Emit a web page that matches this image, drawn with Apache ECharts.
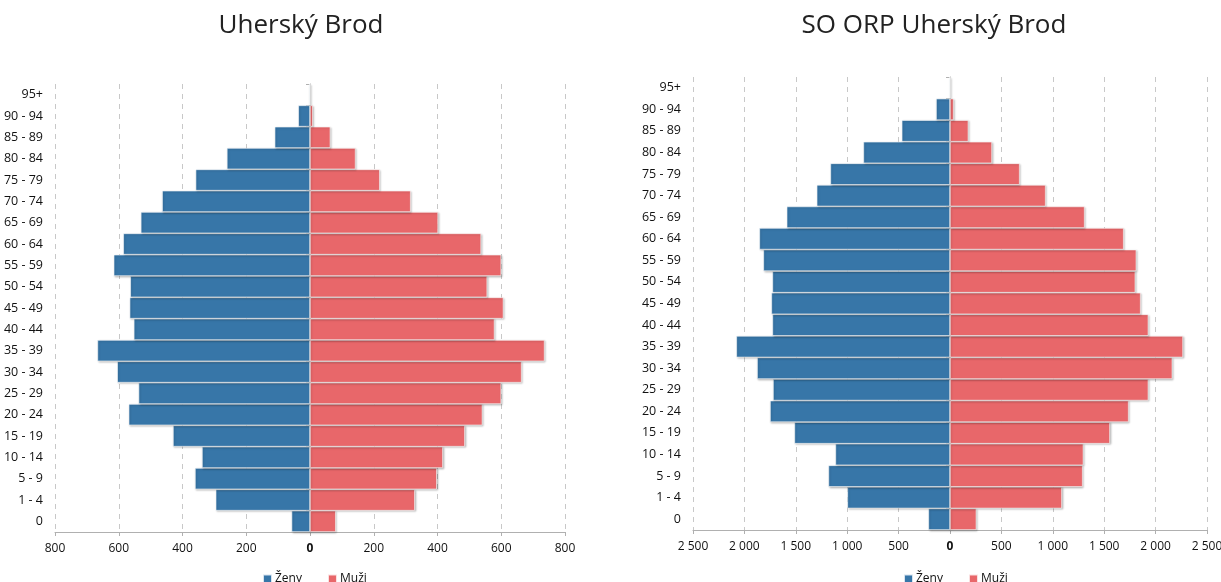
<!DOCTYPE html>
<html>
<head>
<meta charset="utf-8">
<script src="https://cdn.jsdelivr.net/npm/echarts@6/dist/echarts.min.js"></script>
<style>
  html, body { margin: 0; padding: 0; background: #fff; }
  #chart { width: 1221px; height: 582px; }
</style>
</head>
<body>
<div id="chart"></div>
<script>
// age groups, bottom to top
const ageGroups = ["0", "1 - 4", "5 - 9", "10 - 14", "15 - 19", "20 - 24", "25 - 29", "30 - 34",
  "35 - 39", "40 - 44", "45 - 49", "50 - 54", "55 - 59", "60 - 64", "65 - 69", "70 - 74",
  "75 - 79", "80 - 84", "85 - 89", "90 - 94", "95+"];

// Uherský Brod
const brodZeny = [58, 296, 361, 339, 430, 569, 538, 605, 667, 553, 566, 564, 616, 586, 531, 464, 359, 261, 111, 37, 3];
const brodMuzi = [81, 329, 398, 417, 486, 541, 600, 664, 736, 579, 607, 556, 600, 537, 402, 316, 219, 143, 64, 9, 1];

// SO ORP Uherský Brod
const orpZeny = [211, 999, 1183, 1115, 1514, 1751, 1722, 1877, 2079, 1728, 1738, 1728, 1816, 1855, 1589, 1297, 1164, 843, 470, 136, 8];
const orpMuzi = [257, 1089, 1291, 1298, 1556, 1738, 1930, 2163, 2267, 1930, 1855, 1803, 1813, 1690, 1310, 931, 678, 409, 179, 36, 5];

const titles = ["Uherský Brod", "SO ORP Uherský Brod"];
const blue = "#3776a8";
const red = "#e8676a";
const font = "Open Sans";

const chart = echarts.init(document.getElementById("chart"));

const neg = arr => arr.map(v => -v);
const fmtThousands = v => {
  const a = Math.abs(v);
  if (a === 0) return "{b|0}";
  return String(a).replace(/\B(?=(\d{3})+(?!\d))/g, " ");
};

const valueAxis = (gridIndex, max, interval) => ({
  type: "value",
  gridIndex: gridIndex,
  min: -max,
  max: max,
  interval: interval,
  axisLine: { show: true, lineStyle: { color: "#b0b0b0" } },
  axisTick: { show: true, length: 4, lineStyle: { color: "#b0b0b0" } },
  axisLabel: {
    formatter: fmtThousands,
    color: "#111",
    fontFamily: font,
    fontSize: 12,
    margin: 11,
    rich: { b: { fontWeight: "bold", fontFamily: font, fontSize: 12, color: "#111" } }
  },
  splitLine: { show: true, lineStyle: { color: "#c8c8c8", type: [5, 5], width: 1 } }
});

const categoryAxis = gridIndex => ({
  type: "category",
  gridIndex: gridIndex,
  data: ageGroups,
  axisLine: { show: true, lineStyle: { color: "#b0b0b0" } },
  axisTick: { show: true, length: 4, lineStyle: { color: "#b0b0b0" } },
  axisLabel: { color: "#111", fontFamily: font, fontSize: 12.5, margin: 12 }
});

const barSeries = (name, data, idx, color) => ({
  name: name,
  type: "bar",
  stack: "pyr" + idx,
  xAxisIndex: idx,
  yAxisIndex: idx,
  data: data,
  barCategoryGap: 0,
  itemStyle: {
    color: color,
    borderColor: "rgba(255,255,255,0.8)",
    borderWidth: 0.7,
    shadowBlur: 2,
    shadowColor: "rgba(0,0,0,0.25)",
    shadowOffsetX: 1,
    shadowOffsetY: 1
  },
  emphasis: { disabled: true }
});

const legendOpt = left => ({
  data: ["Ženy", "Muži"],
  left: left,
  top: 568,
  itemWidth: 9,
  itemHeight: 9,
  itemGap: 25,
  icon: "rect",
  textStyle: { color: "#111", fontFamily: font, fontSize: 12, padding: [0, 0, 0, -2] }
});

const option = {
  backgroundColor: "#fff",
  animation: false,
  title: [
    { text: titles[0], left: 296, top: 8, textAlign: "center",
      textStyle: { fontFamily: font, fontSize: 26, fontWeight: "normal", color: "#222" } },
    { text: titles[1], left: 929, top: 8, textAlign: "center",
      textStyle: { fontFamily: font, fontSize: 26, fontWeight: "normal", color: "#222" } }
  ],
  legend: [legendOpt(257), legendOpt(898)],
  grid: [
    { left: 55, right: 656, top: 84, bottom: 50, outerBoundsMode: "none" },
    { left: 693, right: 14, top: 77, bottom: 52, outerBoundsMode: "none" }
  ],
  xAxis: [valueAxis(0, 800, 200), valueAxis(1, 2500, 500)],
  yAxis: [categoryAxis(0), categoryAxis(1)],
  series: [
    barSeries("Ženy", neg(brodZeny), 0, blue),
    barSeries("Muži", brodMuzi, 0, red),
    barSeries("Ženy", neg(orpZeny), 1, blue),
    barSeries("Muži", orpMuzi, 1, red)
  ]
};

chart.setOption(option);
</script>
</body>
</html>
